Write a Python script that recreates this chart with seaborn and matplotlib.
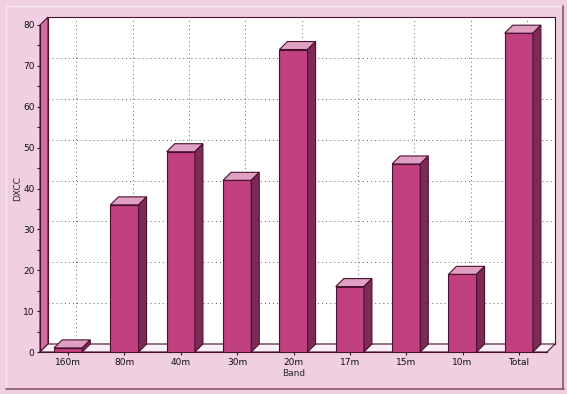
import numpy as np
import pandas as pd
import matplotlib
matplotlib.use("Agg")
import matplotlib.pyplot as plt
from matplotlib.patches import Polygon, Rectangle
from matplotlib.lines import Line2D
import seaborn as sns

# data
bands = ["160m", "80m", "40m", "30m", "20m", "17m", "15m", "10m", "Total"]
dxcc = [1, 36, 49, 42, 74, 16, 46, 19, 78]

# colours
bg = "#f0d0e0"
face = "#c04080"
top_face = "#e0a0c4"
side_face = "#7e2a56"
edge = "#4a1030"
wall = "#d070a0"
floor = "#f8f0f4"

W, H = 567, 394
fig = plt.figure(figsize=(W / 100, H / 100), dpi=100, facecolor=bg)
sns.set_style("white")
plt.rcParams["font.family"] = ["DejaVu Sans"]

# front plane of the 3d box in pixels
left_px, right_px, bot_px, top_px = 40, 547, 352, 25
ax = fig.add_axes([left_px / W, (H - bot_px) / H,
                   (right_px - left_px) / W, (bot_px - top_px) / H])
ax.set_facecolor("none")

df = pd.DataFrame({"Band": bands, "DXCC": dxcc})
sns.barplot(data=df, x="Band", y="DXCC", color=face, width=0.5,
            edgecolor=edge, linewidth=0.8, saturation=1, ax=ax, zorder=5)

ax.set_xlim(-0.5, len(bands) - 0.5)
ax.set_ylim(0, 80)

# depth offset: 8 px right and 8 px up
dx = 8 / ((right_px - left_px) / len(bands))
dy = 8 / ((bot_px - top_px) / 80)
x0, x1 = -0.5, len(bands) - 0.5

bars = [p for p in ax.patches if isinstance(p, Rectangle)]

# back wall, left wall and floor
ax.add_patch(Rectangle((x0 + dx, dy), x1 - x0, 80, facecolor="white",
                       edgecolor=edge, lw=0.8, clip_on=False, zorder=0))
ax.add_patch(Polygon([(x0, 0), (x0 + dx, dy), (x0 + dx, 80 + dy), (x0, 80)],
                     closed=True, facecolor=wall, edgecolor=edge, lw=0.8,
                     clip_on=False, zorder=1))
ax.add_patch(Polygon([(x0, 0), (x1, 0), (x1 + dx, dy), (x0 + dx, dy)],
                     closed=True, facecolor=floor, edgecolor=edge, lw=0.8,
                     clip_on=False, zorder=1))

# dotted grid on the back wall
for v in range(10, 80, 10):
    ax.plot([x0 + dx, x1 + dx], [v + dy, v + dy], color="#606060", lw=0.7,
            ls=(0, (1, 3.2)), clip_on=False, zorder=0.5)
for i in range(len(bands)):
    ax.plot([i + dx, i + dx], [dy, 80 + dy], color="#606060", lw=0.7,
            ls=(0, (1, 3.2)), clip_on=False, zorder=0.5)

# top and side faces of each bar
for p in bars:
    bx, bw, bh = p.get_x(), p.get_width(), p.get_height()
    top = [(bx, bh), (bx + bw, bh), (bx + bw + dx, bh + dy), (bx + dx, bh + dy)]
    side = [(bx + bw, 0), (bx + bw + dx, dy), (bx + bw + dx, bh + dy), (bx + bw, bh)]
    ax.add_patch(Polygon(top, closed=True, facecolor=top_face, edgecolor=edge,
                         lw=0.8, clip_on=False, zorder=5))
    ax.add_patch(Polygon(side, closed=True, facecolor=side_face, edgecolor=edge,
                         lw=0.8, clip_on=False, zorder=5))

# axes styling
for s in ["top", "right"]:
    ax.spines[s].set_visible(False)
for s in ["left", "bottom"]:
    ax.spines[s].set_color(edge)
    ax.spines[s].set_linewidth(0.8)
    ax.spines[s].set_zorder(2)
ax.set_yticks(range(0, 81, 10))
ax.set_yticks(range(5, 80, 10), minor=True)
ax.tick_params(axis="both", which="both", direction="out", length=2.5,
               width=0.8, color="#202020", labelsize=6.5, pad=1.5,
               left=True, bottom=True, labelcolor="#101010")
ax.set_xlabel("Band", fontsize=6.5, labelpad=2)
ax.set_ylabel("DXCC", fontsize=6.5, labelpad=0.5)

# panel bevel
fig.add_artist(Line2D([5 / W, 563 / W], [1 - 5.5 / H, 1 - 5.5 / H],
                      color="#f8e6ef", lw=1))
fig.add_artist(Line2D([5.5 / W, 5.5 / W], [1 - 5 / H, 1 - 388 / H],
                      color="#f8e6ef", lw=1))
fig.add_artist(Line2D([6 / W, 563.5 / W], [1 - 388.5 / H, 1 - 388.5 / H],
                      color="#8a5470", lw=1.2))
fig.add_artist(Line2D([563 / W, 563 / W], [1 - 6 / H, 1 - 389 / H],
                      color="#8a5470", lw=1.2))

fig.savefig("out.png", dpi=100, facecolor=bg)
